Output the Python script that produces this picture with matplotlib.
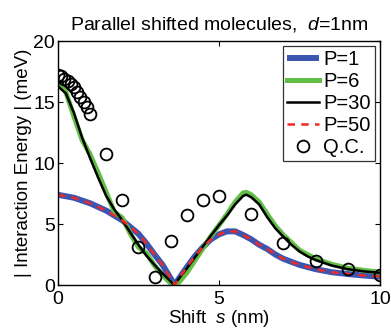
import matplotlib.pyplot as plt

plt.rcParams['font.family'] = ['Liberation Sans', 'DejaVu Sans']
plt.rcParams['mathtext.fontset'] = 'custom'
plt.rcParams['mathtext.it'] = 'Liberation Sans:italic'
plt.rcParams['mathtext.rm'] = 'Liberation Sans'

# curves
s_p1 = [0, 0.5, 1.0, 1.5, 2.0, 2.5, 2.75, 3.0, 3.25, 3.5, 3.62, 3.75, 4.0, 4.25, 4.5,
        4.75, 5.0, 5.25, 5.5, 5.75, 6.0, 6.25, 6.5, 6.75, 7.0, 7.5, 8.0, 8.5, 9.0, 9.5, 10]
e_p1 = [7.4, 7.15, 6.7, 6.1, 5.3, 4.2, 3.4, 2.5, 1.65, 0.55, 0.0, 0.5, 1.45, 2.35, 3.1,
        3.75, 4.15, 4.4, 4.4, 4.1, 3.75, 3.3, 2.95, 2.5, 2.15, 1.65, 1.3, 1.05, 0.9, 0.78, 0.68]

s_p6 = [0, 0.25, 0.5, 0.75, 1.0, 1.25, 1.5, 1.75, 2.0, 2.25, 2.5, 2.75, 3.0, 3.25, 3.5,
        3.65, 3.75, 4.0, 4.25, 4.5, 4.75, 5.0, 5.25, 5.5, 5.75, 5.85, 6.0, 6.25, 6.5, 6.75,
        7.0, 7.5, 8.0, 8.5, 9.0, 9.5, 10]
e_p6 = [16.8, 15.8, 13.8, 11.9, 10.7, 9.2, 7.6, 6.0, 5.5, 4.2, 3.1, 2.6, 1.6, 0.8, 0.15,
        0.0, 0.2, 1.0, 2.0, 3.0, 4.0, 4.9, 5.8, 6.8, 7.55, 7.6, 7.4, 6.8, 5.8, 4.85,
        4.1, 2.85, 2.15, 1.7, 1.38, 1.2, 1.05]

s_p30 = [0, 0.25, 0.5, 0.75, 1.0, 1.25, 1.5, 1.75, 2.0, 2.25, 2.5, 2.75, 3.0, 3.25, 3.5,
         3.6, 3.75, 4.0, 4.25, 4.5, 4.75, 5.0, 5.25, 5.5, 5.75, 5.85, 6.0, 6.25, 6.5, 6.75,
         7.0, 7.25, 7.5, 7.75, 8.0, 8.5, 9.0, 9.5, 10]
e_p30 = [16.3, 15.7, 14.1, 12.1, 10.4, 8.8, 7.3, 6.2, 5.3, 4.3, 3.3, 2.4, 1.65, 0.95, 0.3,
         0.0, 0.5, 1.35, 2.25, 3.15, 4.05, 4.9, 5.7, 6.6, 7.3, 7.4, 7.2, 6.6, 5.55, 4.65,
         3.95, 3.3, 2.75, 2.35, 2.05, 1.6, 1.3, 1.12, 1.0]

s_p50 = s_p1
e_p50 = [7.4, 7.15, 6.7, 6.1, 5.3, 4.2, 3.4, 2.5, 1.65, 0.55, 0.0, 0.5, 1.45, 2.35, 3.1,
         3.75, 4.15, 4.4, 4.4, 4.1, 3.75, 3.3, 2.95, 2.5, 2.15, 1.65, 1.3, 1.05, 0.9, 0.78, 0.7]

s_qc = [0, 0.1, 0.2, 0.3, 0.4, 0.5, 0.6, 0.7, 0.8, 0.9, 1.0,
        1.5, 2.0, 2.5, 3.0, 3.5, 4.0, 4.5, 5.0, 6.0, 7.0, 8.0, 9.0, 10.0]
e_qc = [17.2, 17.1, 16.9, 16.7, 16.5, 16.2, 15.8, 15.4, 15.0, 14.6, 14.0,
        10.7, 6.95, 3.1, 0.65, 3.6, 5.75, 6.95, 7.3, 5.85, 3.45, 1.97, 1.28, 0.82]

fig = plt.figure(figsize=(3.91, 3.28), dpi=100)
ax = fig.add_axes([0.148, 0.131, 0.824, 0.744])

ax.plot(s_p1, e_p1, color='#3a56b0', lw=4.3, label='P=1', solid_capstyle='butt')
ax.plot(s_p6, e_p6, color='#62be45', lw=3.6, label='P=6')
ax.plot(s_p30, e_p30, color='black', lw=1.8, label='P=30')
ax.plot(s_p50, e_p50, color='#f02828', lw=1.8, ls=(0, (3, 2.5)), label='P=50')
ax.plot(s_qc, e_qc, 'o', mfc='none', mec='black', ms=8.5, mew=1.3, label='Q.C.')

ax.set_xlim(0, 10)
ax.set_ylim(0, 20)
ax.set_xticks([0, 5, 10])
ax.set_yticks([0, 5, 10, 15, 20])
ax.tick_params(direction='in', top=True, right=True, length=3.5, width=0.8,
               labelsize=14)
ax.tick_params(axis='x', pad=4)
ax.tick_params(axis='y', pad=2)
for sp in ax.spines.values():
    sp.set_linewidth(1.0)

ax.set_title('Parallel shifted molecules,  $d$=1nm', fontsize=14, pad=8)
ax.set_xlabel('Shift  $s$ (nm)', fontsize=13.5, labelpad=0)
ax.set_ylabel('| Interaction Energy | (meV)', fontsize=13.5, labelpad=1)

leg = ax.legend(loc='upper right', fontsize=14.5, frameon=True, fancybox=False,
                edgecolor='black', handlelength=1.6, handletextpad=0.2,
                borderpad=0.2, labelspacing=0.15, borderaxespad=0.25)
leg.get_frame().set_linewidth(0.9)

fig.savefig('out.png', dpi=100)
